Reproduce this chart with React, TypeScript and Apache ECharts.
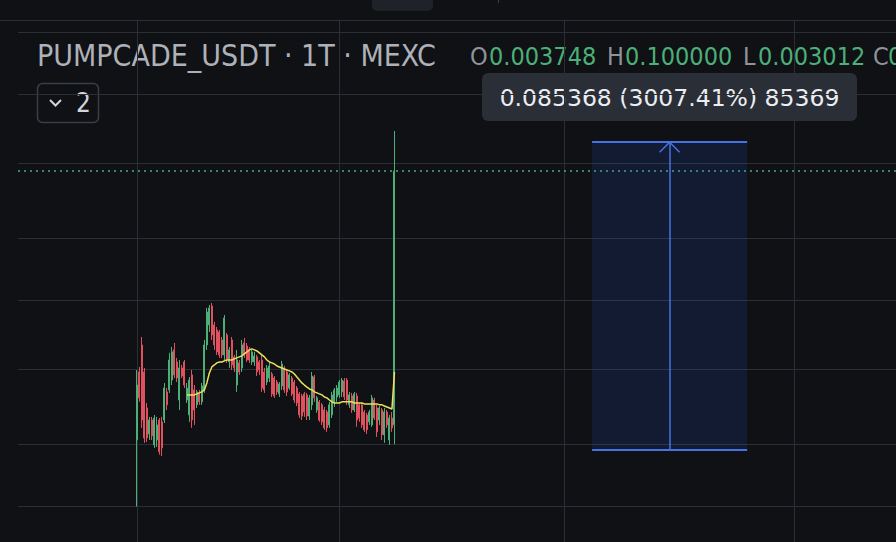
import { useEffect, useRef } from 'react';
import * as echarts from 'echarts';

// ---------- data ----------
const slotCount = 351; // time slots (1-minute) across the visible pane
const firstCandleSlot = 47;
const maFirstCandle = 20;

const categories: string[] = Array.from({ length: slotCount }, (_, k) => {
  const t = 8 * 60 + k;
  return `${String(Math.floor(t / 60) % 24).padStart(2, '0')}:${String(t % 60).padStart(2, '0')}`;
});

const opens = [
  0.00316, 0.00676, 0.00914, 0.00676, 0.00452, 0.00338, 0.00395, 0.00299, 0.00316, 0.00395,
  0.00387, 0.00395, 0.00541, 0.00553, 0.00618, 0.00865, 0.00756, 0.00494, 0.00707, 0.00756,
  0.00494, 0.00418, 0.00654, 0.00553, 0.00468, 0.00535, 0.00484, 0.00553, 0.00914, 0.01143,
  0.01414, 0.01143, 0.01081, 0.01057, 0.00967, 0.00818, 0.01022, 0.00756, 0.00967, 0.008,
  0.00584, 0.00748, 0.00707, 0.00935, 0.00904, 0.00865, 0.00756, 0.00756, 0.008, 0.00756,
  0.00773, 0.00676, 0.00604, 0.00632, 0.00661, 0.00632, 0.00604, 0.00529, 0.00578, 0.00707,
  0.00676, 0.00565, 0.00632, 0.00604, 0.00565, 0.00529, 0.00517, 0.00529, 0.00523, 0.00413,
  0.00468, 0.00639, 0.00442, 0.00484, 0.00468, 0.00442, 0.00432, 0.00374, 0.00418, 0.00484,
  0.00511, 0.00523, 0.00541, 0.00611, 0.00618, 0.00468, 0.00517, 0.00442, 0.00517, 0.00468,
  0.00468, 0.00432, 0.00418, 0.00387, 0.00374, 0.00494, 0.00452, 0.00395, 0.00442, 0.00335,
  0.00432, 0.00316, 0.00404, 0.003748,
];
const closes = [
  0.00584, 0.00506, 0.00395, 0.00323, 0.00323, 0.00395, 0.00331, 0.00404, 0.00374, 0.00277,
  0.00289, 0.00565, 0.00468, 0.00773, 0.00846, 0.00654, 0.00632, 0.00707, 0.00646, 0.00584,
  0.00565, 0.00618, 0.00395, 0.00442, 0.00541, 0.00484, 0.00578, 0.00914, 0.01322, 0.01383,
  0.01022, 0.00914, 0.00846, 0.00818, 0.00818, 0.01236, 0.00773, 0.00865, 0.00731, 0.00707,
  0.00773, 0.00676, 0.00914, 0.00818, 0.00773, 0.00773, 0.00846, 0.00809, 0.00676, 0.00691,
  0.00565, 0.00553, 0.00707, 0.00723, 0.00529, 0.00517, 0.00541, 0.00591, 0.00739, 0.00553,
  0.00541, 0.00654, 0.00529, 0.00494, 0.00478, 0.00418, 0.00413, 0.00432, 0.00413, 0.00506,
  0.00646, 0.00506, 0.00506, 0.00395, 0.00387, 0.00362, 0.00362, 0.00468, 0.00523, 0.00553,
  0.00565, 0.00604, 0.00618, 0.00511, 0.00494, 0.00523, 0.00442, 0.00529, 0.00395, 0.00404,
  0.00374, 0.00354, 0.00354, 0.00432, 0.00506, 0.00404, 0.00346, 0.00452, 0.00335, 0.00432,
  0.00374, 0.00404, 0.00362, 0.0639,
];
const lows = [
  0.0015, 0.00484, 0.00362, 0.00306, 0.00309, 0.00316, 0.00316, 0.00289, 0.00292, 0.00268,
  0.00264, 0.00382, 0.00442, 0.00535, 0.00584, 0.00632, 0.00604, 0.00442, 0.00632, 0.00565,
  0.00478, 0.00387, 0.00362, 0.00374, 0.00452, 0.00468, 0.00468, 0.00535, 0.00865, 0.01057,
  0.00967, 0.00865, 0.00818, 0.00791, 0.00791, 0.00773, 0.00748, 0.00707, 0.00691, 0.00676,
  0.00541, 0.00654, 0.00676, 0.00791, 0.00756, 0.00748, 0.00731, 0.00723, 0.00646, 0.00654,
  0.00541, 0.00535, 0.00584, 0.00604, 0.00511, 0.00506, 0.00523, 0.00511, 0.00553, 0.00535,
  0.00517, 0.00553, 0.00517, 0.00478, 0.00462, 0.00404, 0.00395, 0.00409, 0.00395, 0.00395,
  0.00442, 0.00484, 0.00428, 0.00387, 0.00374, 0.00354, 0.00346, 0.00362, 0.00404, 0.00457,
  0.00484, 0.00506, 0.00511, 0.00494, 0.00468, 0.00452, 0.00428, 0.00432, 0.00366, 0.00387,
  0.00362, 0.00346, 0.00338, 0.00374, 0.00366, 0.00395, 0.00327, 0.00374, 0.00316, 0.00306,
  0.00362, 0.00299, 0.00346, 0.003012,
];
const highs = [
  0.00691, 0.00715, 0.01, 0.00707, 0.00478, 0.00409, 0.00409, 0.00418, 0.00409, 0.00404,
  0.00409, 0.00598, 0.00565, 0.00837, 0.00894, 0.00935, 0.00791, 0.00773, 0.00731, 0.00773,
  0.00598, 0.00639, 0.00691, 0.00584, 0.00553, 0.00553, 0.00598, 0.00967, 0.01383, 0.0143,
  0.01462, 0.01182, 0.01118, 0.01081, 0.01, 0.01278, 0.01045, 0.00894, 0.01, 0.00818,
  0.00865, 0.00773, 0.00967, 0.00989, 0.00935, 0.00894, 0.00865, 0.00846, 0.00818, 0.00773,
  0.00818, 0.00707, 0.00731, 0.00748, 0.00676, 0.00646, 0.00618, 0.00604, 0.00765, 0.00723,
  0.00691, 0.00668, 0.00646, 0.00618, 0.00578, 0.00541, 0.00529, 0.00541, 0.00535, 0.00523,
  0.00676, 0.00654, 0.00517, 0.00494, 0.00478, 0.00457, 0.00442, 0.00484, 0.00541, 0.00565,
  0.00584, 0.00618, 0.00632, 0.00632, 0.00632, 0.00541, 0.00535, 0.00541, 0.00535, 0.00478,
  0.00478, 0.00442, 0.00428, 0.00442, 0.00523, 0.00506, 0.00468, 0.00462, 0.00452, 0.00452,
  0.00442, 0.00418, 0.00432, 0.1,
];
const maValues = [
  0.00523, 0.00523, 0.00523, 0.00523, 0.00529, 0.00535, 0.00541, 0.00553, 0.00598, 0.00668,
  0.00715, 0.00731, 0.00748, 0.00756, 0.00756, 0.00765, 0.00773, 0.00773, 0.00773, 0.00782,
  0.00791, 0.008, 0.00809, 0.00827, 0.00846, 0.00865, 0.00875, 0.00865, 0.00855, 0.00837,
  0.00818, 0.008, 0.00773, 0.00756, 0.00748, 0.00739, 0.00723, 0.00715, 0.00707, 0.00699,
  0.00691, 0.00684, 0.00676, 0.00661, 0.00639, 0.00618, 0.00598, 0.00584, 0.00571, 0.00559,
  0.00553, 0.00541, 0.00535, 0.00529, 0.00523, 0.00511, 0.00506, 0.00494, 0.00484, 0.00478,
  0.00478, 0.00478, 0.00484, 0.00484, 0.00484, 0.00484, 0.00484, 0.00478, 0.00478, 0.00478,
  0.00478, 0.00473, 0.00473, 0.00473, 0.00473, 0.00473, 0.00473, 0.00468, 0.00468, 0.00462,
  0.00457, 0.00452, 0.00447, 0.00676,
];

const priceGridLevels = [0.3, 0.15, 0.07, 0.03, 0.015, 0.007, 0.003, 0.0015];
const timeGridSlots = [47, 128, 218, 310];
const lastClose = 0.0639;
const measureLow = 0.002839;
const measureHigh = 0.088207;
const measureArrowWing = 0.07887;
const measureSlots = [229, 260, 291];
const arrowWingSlots = [256, 264];

const symbolTitle = 'PUMPCADE_USDT · 1T · MEXC';
const ohlcLabels = ['O', 'H', 'L', 'C'];
const ohlcValues = ['0.003748', '0.100000', '0.003012', '0.063907'];
const measureText = '0.085368 (3007.41%) 85369';
const indicatorCount = '2';

// ---------- styles ----------
const BG = '#0f1114';
const GRID = '#2b2e35';
const UP = '#4caf78';
const DOWN = '#e0515d';
const MA = '#f0de5a';
const BLUE = '#4672e6';
const TITLE = '#aeb1b9';
const LABEL = '#8f939c';
const CONDENSED = '"DejaVu Sans Condensed", "Liberation Sans Narrow", "DejaVu Sans", sans-serif';

export default function App() {
  const ref = useRef<HTMLDivElement>(null);

  useEffect(() => {
    if (!ref.current) return;
    const chart = echarts.init(ref.current, undefined, { renderer: 'svg' });

    const candleData = opens.map((o, i) => [firstCandleSlot + i, o, closes[i], lows[i], highs[i]]);
    const maData = maValues.map((v, j) => [firstCandleSlot + maFirstCandle + j, v]);

    const blueLine = (w: number) => ({ color: BLUE, width: w, type: 'solid' as const });
    const seg = (x1: number, y1: number, x2: number, y2: number, w: number) => [
      { coord: [x1, y1], lineStyle: blueLine(w) },
      { coord: [x2, y2], lineStyle: blueLine(w) },
    ];

    const ohlcX = [470, 607, 743, 873];
    const ohlcValX = [489, 625, 758, 888];

    const graphics: any[] = [
      { type: 'rect', silent: true, shape: { x: 372, y: -6, width: 61, height: 17, r: 5 }, style: { fill: '#1f2228' } },
      { type: 'line', silent: true, shape: { x1: 498.5, y1: 0, x2: 498.5, y2: 3 }, style: { stroke: '#3a3d44', lineWidth: 1 } },
      { type: 'line', silent: true, shape: { x1: 0, y1: 20.5, x2: 896, y2: 20.5 }, style: { stroke: GRID, lineWidth: 1 } },
      {
        type: 'text', silent: true, x: 37, y: 55,
        style: { text: symbolTitle, fill: TITLE, font: `30px ${CONDENSED}`, align: 'left', verticalAlign: 'middle' },
      },
      {
        type: 'rect', silent: true, shape: { x: 37.5, y: 83.5, width: 61, height: 39, r: 5 },
        style: { fill: 'rgba(0,0,0,0)', stroke: '#3b3e46', lineWidth: 1.5 },
      },
      {
        type: 'polyline', silent: true, shape: { points: [[50, 100], [55.5, 105.5], [61, 100]] },
        style: { stroke: '#d1d4dc', lineWidth: 2, fill: null },
      },
      {
        type: 'text', silent: true, x: 76, y: 103,
        style: { text: indicatorCount, fill: '#d1d4dc', font: `26px ${CONDENSED}`, align: 'left', verticalAlign: 'middle' },
      },
      {
        type: 'rect', silent: true, shape: { x: 482, y: 73, width: 375, height: 48, r: 6 },
        style: { fill: '#2a2e37' },
      },
      {
        type: 'text', silent: true, x: 669.5, y: 98,
        style: { text: measureText, fill: '#eceef3', font: '23.5px "DejaVu Sans", sans-serif', align: 'center', verticalAlign: 'middle' },
      },
    ];
    ohlcLabels.forEach((l, k) => {
      graphics.push({
        type: 'text', silent: true, x: ohlcX[k], y: 56,
        style: { text: l, fill: LABEL, font: `25px ${CONDENSED}`, align: 'left', verticalAlign: 'middle' },
      });
      graphics.push({
        type: 'text', silent: true, x: ohlcValX[k], y: 56,
        style: { text: ohlcValues[k], fill: UP, font: `25px ${CONDENSED}`, align: 'left', verticalAlign: 'middle' },
      });
    });

    chart.setOption({
      animation: false,
      backgroundColor: BG,
      grid: { left: 18, right: 0, top: 20, bottom: 0, containLabel: false },
      xAxis: { type: 'category', data: categories, show: false, boundaryGap: true },
      yAxis: { type: 'log', logBase: 10, min: 0.00101, max: 0.3458, show: false },
      series: [
        {
          name: 'grid', type: 'line', data: [], z: 1, silent: true,
          markLine: {
            z: 1, silent: true, precision: 8, symbol: ['none', 'none'], label: { show: false },
            lineStyle: { color: GRID, width: 1, type: 'solid' },
            data: [
              ...priceGridLevels.map((v) => ({ yAxis: v })),
              ...timeGridSlots.map((s) => ({ xAxis: s })),
              { yAxis: lastClose, lineStyle: { color: UP, width: 1.5, type: [2, 4] } },
            ],
          },
        },
        {
          name: 'measure', type: 'line', data: [], z: 2, silent: true,
          markArea: {
            z: 2, silent: true, precision: 8, itemStyle: { color: 'rgba(41,98,255,0.13)' }, label: { show: false },
            data: [[{ coord: [measureSlots[0], measureHigh] }, { coord: [measureSlots[2], measureLow] }]],
          },
          markLine: {
            z: 3, silent: true, precision: 8, symbol: ['none', 'none'], label: { show: false },
            lineStyle: blueLine(2),
            data: [
              seg(measureSlots[0], measureHigh, measureSlots[2], measureHigh, 2),
              seg(measureSlots[0], measureLow, measureSlots[2], measureLow, 2),
              seg(measureSlots[1], measureLow, measureSlots[1], measureHigh, 1.5),
              seg(arrowWingSlots[0], measureArrowWing, measureSlots[1], measureHigh, 1.5),
              seg(arrowWingSlots[1], measureArrowWing, measureSlots[1], measureHigh, 1.5),
            ],
          },
        },
        {
          name: 'PUMPCADE_USDT', type: 'candlestick', z: 3, silent: true,
          barWidth: 1.5,
          data: candleData,
          encode: { x: 0, y: [1, 2, 3, 4] },
          itemStyle: { color: UP, color0: DOWN, borderColor: UP, borderColor0: DOWN, borderWidth: 1 },
        },
        {
          name: 'MA', type: 'line', z: 4, silent: true, data: maData,
          showSymbol: false, symbol: 'none',
          lineStyle: { color: MA, width: 1.5 },
        },
      ],
      graphic: graphics,
    });

    return () => chart.dispose();
  }, []);

  return (
    <div
      ref={ref}
      style={{ position: 'fixed', left: 0, top: 0, width: 896, height: 542, background: BG }}
    />
  );
}
